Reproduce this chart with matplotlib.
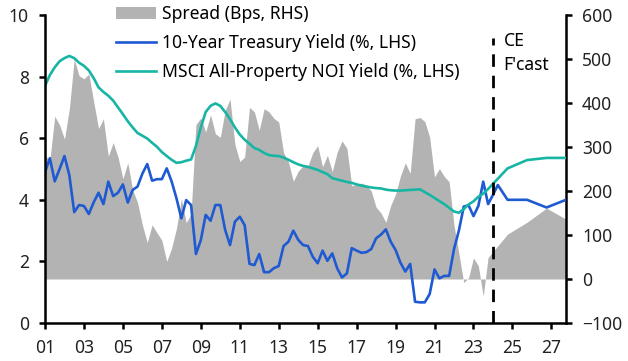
"""
US: 10-year Treasury yield vs MSCI all-property NOI yield, with spread (RHS)
"""

import numpy as np
import matplotlib
matplotlib.use('Agg')
import matplotlib.pyplot as plt

plt.rcParams['font.family'] = ['Noto Sans', 'DejaVu Sans']

# quarterly history from 2001Q1
TREASURY_HIST = [
    4.90, 5.35, 4.60, 5.00, 5.42, 4.80, 3.60, 3.83, 3.80, 3.54, 3.92, 4.23,
    3.86, 4.59, 4.12, 4.23, 4.50, 3.91, 4.32, 4.43, 4.85, 5.16, 4.62, 4.67,
    4.67, 5.02, 4.60, 4.05, 3.40, 3.99, 3.83, 2.24, 2.69, 3.51, 3.32, 3.83,
    3.83, 3.02, 2.53, 3.29, 3.45, 3.18, 1.92, 1.88, 2.24, 1.65, 1.65, 1.78,
    1.85, 2.50, 2.64, 3.00, 2.70, 2.53, 2.50, 2.15, 1.94, 2.35, 2.02, 2.26,
    1.78, 1.48, 1.61, 2.43, 2.35, 2.28, 2.30, 2.40, 2.75, 2.87, 3.04, 2.64,
    2.37, 1.96, 1.67, 1.92, 0.69, 0.67, 0.67, 0.94, 1.74, 1.45, 1.53, 1.53,
    2.40, 3.00, 3.78, 3.82, 3.47, 3.80, 4.59, 3.86, 4.16, 4.48,
]
NOI_HIST = [
    7.70, 8.05, 8.30, 8.50, 8.60, 8.67, 8.60, 8.45, 8.35, 8.20, 7.95, 7.65,
    7.50, 7.38, 7.22, 7.00, 6.78, 6.55, 6.35, 6.17, 6.08, 5.99, 5.85, 5.72,
    5.55, 5.42, 5.30, 5.20, 5.22, 5.27, 5.31, 5.75, 6.35, 6.85, 7.05, 7.13,
    7.05, 6.85, 6.62, 6.35, 6.12, 5.95, 5.82, 5.68, 5.62, 5.52, 5.45, 5.43,
    5.42, 5.37, 5.30, 5.22, 5.15, 5.10, 5.07, 5.02, 4.97, 4.90, 4.83, 4.70,
    4.66, 4.62, 4.58, 4.55, 4.50, 4.46, 4.43, 4.40, 4.38, 4.37, 4.33, 4.31,
    4.30, 4.30, 4.31, 4.32, 4.33, 4.34, 4.25, 4.16, 4.06, 3.96, 3.86, 3.74,
    3.62, 3.58, 3.70, 3.85, 3.95, 4.10, 4.20, 4.35,
]
SPREAD_HIST = [
    280, 270, 370, 350, 318, 387, 500, 462, 455, 466, 403, 342,
    364, 279, 310, 277, 228, 264, 203, 174, 123, 83, 123, 105,
    88, 40, 70, 115, 182, 128, 148, 351, 366, 334, 373, 330,
    322, 383, 409, 306, 267, 277, 390, 380, 338, 387, 380, 365,
    357, 287, 266, 222, 245, 257, 257, 287, 303, 255, 281, 244,
    288, 314, 297, 212, 215, 218, 213, 200, 163, 150, 129, 167,
    193, 234, 264, 240, 364, 367, 358, 322, 232, 251, 233, 221,
    122, 58, -8, 3, 48, 30, -39, 49,
]

# CE forecasts, year-end
FC_YEARS = [2024.75, 2025.75, 2026.75, 2027.75]
TREASURY_FC = [4.00, 4.00, 3.75, 4.00]
NOI_FC = [5.02, 5.29, 5.36, 5.36]
SPREAD_FC = [102, 129, 161, 136]

FCAST_START = 2024.0
X_TICKS = list(range(2001, 2028, 2))

C_SPREAD = '#b3b3b3'
C_UST = '#1f5ad2'
C_NOI = '#17b5a4'
FS = 12.6


def quarter_years(n):
    return list(2001 + np.arange(n) / 4)


def main():
    fig = plt.figure(figsize=(6.28, 3.61), dpi=100)
    ax = fig.add_axes([45 / 628, 1 - 323 / 361, 521 / 628, 308 / 361])
    ax2 = ax.twinx()

    xs = quarter_years(len(SPREAD_HIST)) + FC_YEARS
    sp = SPREAD_HIST + SPREAD_FC
    ax2.fill_between(xs, 0, sp, color=C_SPREAD, linewidth=0, label='Spread (Bps, RHS)')

    xt = quarter_years(len(TREASURY_HIST)) + FC_YEARS
    ax.plot(xt, TREASURY_HIST + TREASURY_FC, color=C_UST, lw=1.9,
            label='10-Year Treasury Yield (%, LHS)')
    xn = quarter_years(len(NOI_HIST)) + FC_YEARS
    ax.plot(xn, NOI_HIST + NOI_FC, color=C_NOI, lw=1.9,
            label='MSCI All-Property NOI Yield (%, LHS)')

    ax.axvline(FCAST_START, ymin=0, ymax=0.925, color='black', lw=2.0,
               dashes=(4.5, 3.2))
    ax.text(FCAST_START + 0.55, 9.45, "CE\nF'cast", fontsize=FS,
            va='top', ha='left', linespacing=1.45)

    ax.set_zorder(ax2.get_zorder() + 1)
    ax.patch.set_visible(False)

    ax.set_xlim(2001, 2027.75)
    ax.set_ylim(0, 10)
    ax.set_yticks(range(0, 11, 2))
    ax2.set_ylim(-100, 600)
    ax2.set_yticks(range(-100, 601, 100))
    ax.set_xticks(X_TICKS)
    ax.set_xticklabels([f'{y % 100:02d}' for y in X_TICKS])

    for a in (ax, ax2):
        a.spines['top'].set_visible(False)
        for s in a.spines.values():
            s.set_linewidth(1.8)
        a.tick_params(length=4, width=1.8, pad=7.5, labelsize=FS,
                      direction='out', colors='black', labelcolor='#222222')
    ax.spines['right'].set_visible(False)
    ax2.spines['left'].set_visible(False)
    ax2.spines['bottom'].set_visible(False)

    h1, l1 = ax2.get_legend_handles_labels()
    h2, l2 = ax.get_legend_handles_labels()
    fig.legend(h1 + h2, l1 + l2, loc='upper left',
               bbox_to_anchor=(116 / 628, 1 - 5 / 361), frameon=False,
               fontsize=FS, handlelength=2.3, handleheight=0.7,
               handletextpad=0.35, labelspacing=0.62, borderpad=0,
               borderaxespad=0)

    fig.savefig('out.png', dpi=100)
    plt.close(fig)


if __name__ == '__main__':
    main()
